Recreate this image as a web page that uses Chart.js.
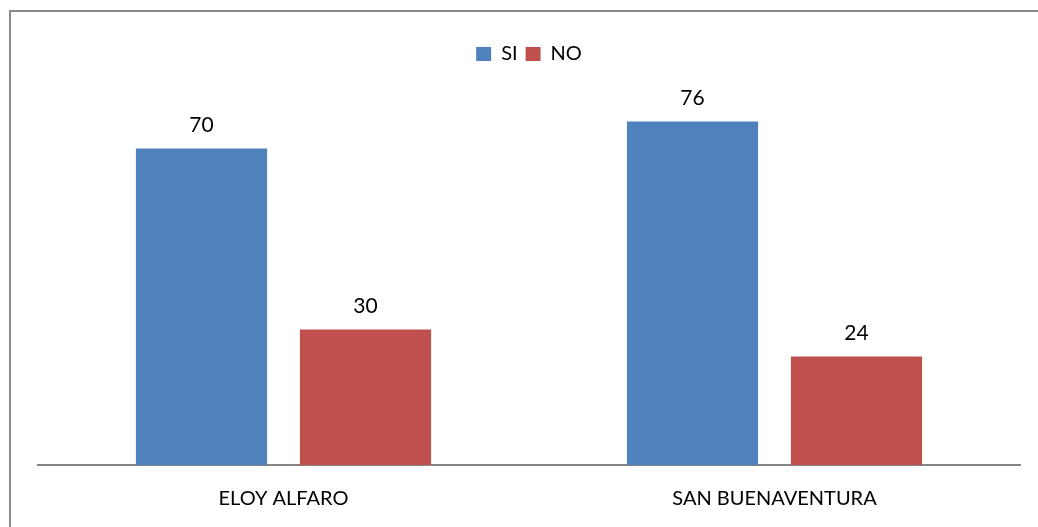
<!DOCTYPE html>
<html>
<head>
<meta charset="utf-8">
<script src="https://cdn.jsdelivr.net/npm/chart.js@4.4.0/dist/chart.umd.min.js"></script>
<style>
    html, body { margin: 0; padding: 0; background: #ffffff; }
    #wrap { position: relative; width: 1038px; height: 527px; }
    #frame {
        position: absolute; left: 9px; top: 10px; right: 0; bottom: 0;
        border-left: 2px solid #8a8a8a; border-top: 2px solid #8a8a8a;
        pointer-events: none;
    }
    canvas { position: absolute; left: 0; top: 0; }
</style>
</head>
<body>
<div id="wrap">
    <canvas id="chart" width="1038" height="527"></canvas>
    <div id="frame"></div>
</div>
<script>
// Data
const categories = ['ELOY ALFARO', 'SAN BUENAVENTURA'];
const siValues = [70, 76];
const noValues = [30, 24];

const FONT = 'Lato, "Open Sans", sans-serif';

// Value labels above each bar
const valueLabels = {
    id: 'valueLabels',
    afterDatasetsDraw(chart) {
        const ctx = chart.ctx;
        ctx.save();
        ctx.fillStyle = '#000000';
        ctx.font = `21px ${FONT}`;
        ctx.textAlign = 'center';
        ctx.textBaseline = 'bottom';
        chart.data.datasets.forEach((ds, i) => {
            chart.getDatasetMeta(i).data.forEach((bar, j) => {
                ctx.fillText(ds.data[j], bar.x, bar.y - 13);
            });
        });
        ctx.restore();
    }
};

new Chart(document.getElementById('chart').getContext('2d'), {
    type: 'bar',
    data: {
        labels: categories,
        datasets: [
            {
                label: 'SI',
                data: siValues,
                backgroundColor: '#4F81BD',
                categoryPercentage: 0.668,
                barPercentage: 0.8
            },
            {
                label: 'NO',
                data: noValues,
                backgroundColor: '#C0504D',
                categoryPercentage: 0.668,
                barPercentage: 0.8
            }
        ]
    },
    options: {
        responsive: false,
        animation: false,
        layout: {
            padding: { left: 38, right: 18, top: 36, bottom: 0 }
        },
        plugins: {
            legend: {
                display: true,
                position: 'top',
                labels: {
                    boxWidth: 15,
                    boxHeight: 14,
                    padding: 8,
                    color: '#000000',
                    font: { family: FONT, size: 20 }
                }
            },
            tooltip: { enabled: false }
        },
        scales: {
            y: {
                display: false,
                min: 0,
                max: 86.5
            },
            x: {
                afterFit(scale) { scale.height = 62; },
                grid: { display: false, drawTicks: false },
                border: { display: true, color: '#868686', width: 2 },
                ticks: {
                    color: '#000000',
                    padding: 22,
                    font: { family: FONT, size: 20 }
                }
            }
        }
    },
    plugins: [valueLabels]
});
</script>
</body>
</html>
